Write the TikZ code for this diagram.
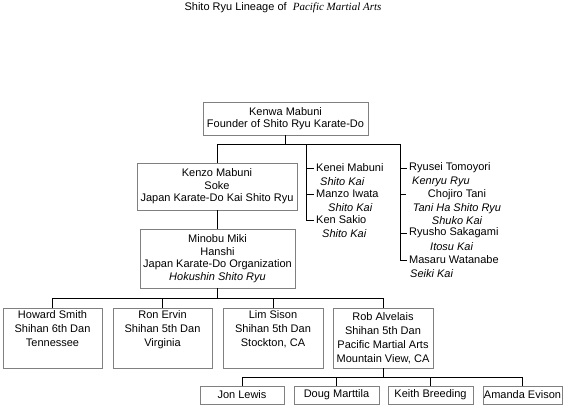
\documentclass[tikz,border=0pt]{standalone}
\usepackage{fontspec}
\setmainfont{Liberation Sans}
\newfontfamily\titleserif{Liberation Serif}
\begin{document}
\begin{tikzpicture}[x=1pt,y=-1pt,
  box/.style={draw=gray, line width=0.8pt, fill=white, align=center, inner sep=1pt,
    font=\fontsize{11}{12.5}\selectfont},
  lowbox/.style={box, minimum width=#1, minimum height=60pt, font=\fontsize{11}{14}\selectfont},
  leafbox/.style={box, minimum width=#1, minimum height=18pt},
  side/.style={anchor=west, inner sep=2pt, font=\fontsize{11}{13.5}\selectfont},
  link/.style={draw=black, line width=0.8pt}]
\useasboundingbox (0,0) rectangle (568,408);
\node[font=\fontsize{11}{13}\selectfont, inner sep=0pt] (title) at (283,8)
  {Shito Ryu Lineage of \ {\titleserif\itshape Pacific Martial Arts}};

\node[box, minimum width=165pt, minimum height=33pt] (kenwa) at (285.5,118.5)
  {Kenwa Mabuni\\Founder of Shito Ryu Karate-Do};
\node[box, minimum width=160pt, minimum height=47pt] (kenzo) at (217,186.5)
  {Kenzo Mabuni\\Soke\\Japan Karate-Do Kai Shito Ryu};
\node[box, minimum width=155pt, minimum height=59pt] (miki) at (217.5,258.5)
  {Minobu Miki\\Hanshi\\Japan Karate-Do Organization\\\textit{Hokushin Shito Ryu}};

% side lists
\node[side] (kenei) at (314,168) {Kenei Mabuni};
\node[side] (keneiorg) at (318,181.5) {\itshape Shito Kai};
\node[side] (manzo) at (314,194) {Manzo Iwata};
\node[side] (manzoorg) at (326,208) {\itshape Shito Kai};
\node[side] (sakio) at (314,220) {Ken Sakio};
\node[side] (sakioorg) at (320,233.5) {\itshape Shito Kai};

\node[side] (tomoyori) at (407,168) {Ryusei Tomoyori};
\node[side] (tomoyoriorg) at (410,182) {\itshape Kenryu Ryu};
\node[side, anchor=center, align=center] (tani) at (457,207.5)
  {Chojiro Tani\\\itshape Tani Ha Shito Ryu\\\itshape Shuko Kai};
\node[side] (sakagami) at (407,233) {Ryusho Sakagami};
\node[side] (sakagamiorg) at (428,246.5) {\itshape Itosu Kai};
\node[side] (masaru) at (407,260) {Masaru Watanabe};
\node[side] (masaruorg) at (408,273.5) {\itshape Seiki Kai};

% bottom row
\node[lowbox=99pt] (howard) at (52.5,338) {Howard Smith\\Shihan 6th Dan\\Tennessee\\\strut};
\node[lowbox=99pt] (ron) at (162.5,338) {Ron Ervin\\Shihan 5th Dan\\Virginia\\\strut};
\node[lowbox=100pt] (lim) at (273,338) {Lim Sison\\Shihan 5th Dan\\Stockton, CA\\\strut};
\node[lowbox=100pt] (rob) at (383,338) {Rob Alvelais\\Shihan 5th Dan\\Pacific Martial Arts\\Mountain View, CA};

\node[leafbox=84pt] (jon) at (242,395) {Jon Lewis};
\node[leafbox=85pt] (doug) at (336.5,395) {Doug Marttila};
\node[leafbox=85pt] (keith) at (430.5,395) {Keith Breeding};
\node[leafbox=79pt] (amanda) at (522.5,395) {Amanda Evison};

% connectors
\coordinate (tl) at (306,144);
\coordinate (tr) at (400,144);
\coordinate (tanitick) at (406,194);
\draw[link] (kenwa.south) -- (kenwa.south |- tl);
\draw[link] (kenzo.north) |- (tr);
\draw[link] (tl) |- (sakio.west);
\draw[link] (tl |- kenei.west) -- (kenei.west);
\draw[link] (tl |- manzo.west) -- (manzo.west);
\draw[link] (tr) |- (masaru.west);
\draw[link] (tr |- tomoyori.west) -- (tomoyori.west);
\draw[link] (tr |- tanitick) -- (tanitick);
\draw[link] (tr |- sakagami.west) -- (sakagami.west);
\draw[link] (kenzo.south) -- (kenzo.south |- miki.north);

\draw[link] (miki.south) -- ++(0,10) coordinate (mb);
\draw[link] (howard.north) |- (rob.north |- mb) -- (rob.north);
\draw[link] (ron.north) -- (ron.north |- mb);
\draw[link] (lim.north) -- (lim.north |- mb);

\draw[link] (rob.south) -- ++(0,9) coordinate (rb);
\draw[link] (jon.north) |- (amanda.north |- rb) -- (amanda.north);
\draw[link] (doug.north) -- (doug.north |- rb);
\draw[link] (keith.north) -- (keith.north |- rb);
\end{tikzpicture}
\end{document}
